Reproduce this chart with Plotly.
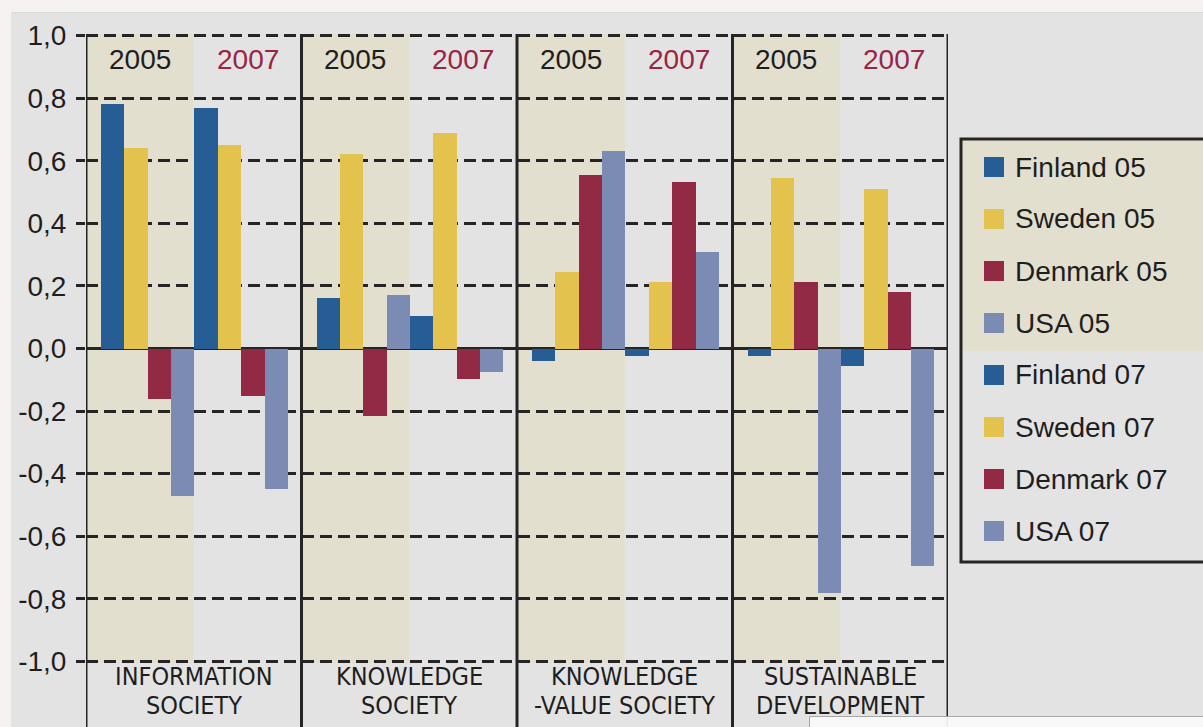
import plotly.graph_objects as go

# ---------------- data ----------------
categories = ["INFORMATION\nSOCIETY", "KNOWLEDGE\nSOCIETY", "KNOWLEDGE\n-VALUE SOCIETY", "SUSTAINABLE\nDEVELOPMENT"]
years = ["2005", "2007"]
series_names = ["Finland 05", "Sweden 05", "Denmark 05", "USA 05",
                "Finland 07", "Sweden 07", "Denmark 07", "USA 07"]
finland_05 = [0.78, 0.16, -0.04, -0.023]
sweden_05 = [0.64, 0.62, 0.245, 0.545]
denmark_05 = [-0.162, -0.215, 0.555, 0.213]
usa_05 = [-0.47, 0.17, 0.63, -0.78]
finland_07 = [0.77, 0.105, -0.025, -0.055]
sweden_07 = [0.65, 0.69, 0.213, 0.51]
denmark_07 = [-0.151, -0.097, 0.533, 0.181]
usa_07 = [-0.449, -0.074, 0.309, -0.695]
series_values = [finland_05, sweden_05, denmark_05, usa_05,
                 finland_07, sweden_07, denmark_07, usa_07]
ytick_vals = [1.0, 0.8, 0.6, 0.4, 0.2, 0.0, -0.2, -0.4, -0.6, -0.8, -1.0]
ytick_text = ["1,0", "0,8", "0,6", "0,4", "0,2", "0,0", "-0,2", "-0,4", "-0,6", "-0,8", "-1,0"]

# ---------------- style ----------------
country_colors = ["#265d94", "#e3c24e", "#922a45", "#7b8bb4"]
series_colors = country_colors + country_colors
DARK = "#262424"
BEIGE = "#e3dfcf"
GRAY = "#e4e3e3"
PAGE = "#f7f2f2"
RED_TEXT = "#9a2445"
FONT = "Liberation Sans, Arial, sans-serif"
NARROW = "DejaVu Sans Condensed, Liberation Sans Narrow, Arial Narrow, Liberation Sans, sans-serif"

WIDTH, HEIGHT = 1203, 727
L, R, T, B = 86, 255, 34, 64
PW, PH = WIDTH - L - R, HEIGHT - T - B


def xp(px):
    return (px - L) / PW


def yp(py):
    return (HEIGHT - B - py) / PH


n_cat = len(categories)
slot_w = 0.1084
slot_start = 0.0696

fig = go.Figure()
for j, (name, vals) in enumerate(zip(series_names, series_values)):
    fig.add_trace(go.Bar(
        x=[k + slot_start + slot_w * (j + 0.5) for k in range(n_cat)],
        y=vals,
        width=slot_w,
        name=name,
        marker=dict(color=series_colors[j], line=dict(width=0)),
        showlegend=False,
    ))

shapes = []
annotations = []

# beige 2005 halves
for k in range(n_cat):
    shapes.append(dict(type="rect", xref="x", yref="paper", x0=k, x1=k + 0.5, y0=0, y1=1,
                       fillcolor=BEIGE, line=dict(width=0), layer="below"))
# vertical separators extending below the plot
for k in range(n_cat + 1):
    shapes.append(dict(type="line", xref="x", yref="paper", x0=k, x1=k, y0=yp(730), y1=1,
                       line=dict(color=DARK, width=3), layer="above"))

# page strips (top and left)
shapes.append(dict(type="rect", xref="paper", yref="paper", x0=xp(-5), x1=xp(WIDTH + 5),
                   y0=yp(12), y1=yp(-5), fillcolor=PAGE, line=dict(width=0), layer="above"))
shapes.append(dict(type="line", xref="paper", yref="paper", x0=xp(11), x1=xp(WIDTH + 5),
                   y0=yp(12.5), y1=yp(12.5), line=dict(color="#dcdcdc", width=1), layer="above"))
shapes.append(dict(type="rect", xref="paper", yref="paper", x0=xp(-5), x1=xp(11),
                   y0=yp(HEIGHT + 5), y1=yp(12), fillcolor=PAGE, line=dict(width=0), layer="above"))

# year headers
for k in range(n_cat):
    for h, yr in enumerate(years):
        annotations.append(dict(x=k + 0.25 + 0.5 * h, y=yp(60), xref="x", yref="paper",
                                text=yr, showarrow=False, xanchor="center", yanchor="middle",
                                font=dict(family=FONT, size=28,
                                          color="#1e1e1e" if h == 0 else RED_TEXT)))

# category labels (two lines)
for k, cat in enumerate(categories):
    lines = cat.split("\n")
    for li, txt in enumerate(lines):
        annotations.append(dict(x=k + 0.5, y=yp(676 + 29 * li), xref="x", yref="paper",
                                text=txt, showarrow=False, xanchor="center", yanchor="middle",
                                font=dict(family=NARROW, size=25, color="#1e1e1e")))

# legend box
lg_x0, lg_y0, lg_y1, lg_mid = 961, 139, 562, 351
shapes.append(dict(type="rect", xref="paper", yref="paper", x0=xp(lg_x0), x1=xp(WIDTH + 10),
                   y0=yp(lg_mid), y1=yp(lg_y0), fillcolor=BEIGE, line=dict(width=0), layer="above"))
shapes.append(dict(type="rect", xref="paper", yref="paper", x0=xp(lg_x0), x1=xp(WIDTH + 10),
                   y0=yp(lg_y1), y1=yp(lg_y0), fillcolor="rgba(0,0,0,0)",
                   line=dict(color=DARK, width=3), layer="above"))
for j, name in enumerate(series_names):
    cy = 167 + 52 * j
    shapes.append(dict(type="rect", xref="paper", yref="paper", x0=xp(984), x1=xp(1004),
                       y0=yp(cy + 10), y1=yp(cy - 10), fillcolor=series_colors[j],
                       line=dict(width=0), layer="above"))
    annotations.append(dict(x=xp(1013), y=yp(cy), xref="paper", yref="paper", text=name,
                            showarrow=False, xanchor="left", yanchor="middle",
                            font=dict(family=FONT, size=28, color="#1e1e1e")))

# white box at bottom right
shapes.append(dict(type="rect", xref="paper", yref="paper", x0=xp(809.5), x1=xp(WIDTH + 10),
                   y0=yp(HEIGHT + 10), y1=yp(716.5), fillcolor="rgba(250,250,250,0.93)",
                   line=dict(color="#a8a8a8", width=1), layer="above"))

fig.update_layout(
    width=WIDTH, height=HEIGHT,
    margin=dict(l=L, r=R, t=T, b=B, pad=0),
    paper_bgcolor=GRAY, plot_bgcolor=GRAY,
    barmode="overlay", bargap=0,
    showlegend=False,
    shapes=shapes, annotations=annotations,
    xaxis=dict(range=[0, n_cat], showgrid=False, zeroline=False, showticklabels=False,
               ticks="", showline=False, fixedrange=True),
    yaxis=dict(range=[-1.005, 1.005], tickmode="array", tickvals=ytick_vals, ticktext=ytick_text,
               ticks="outside", ticklen=9, tickwidth=3, tickcolor=DARK,
               tickfont=dict(family=FONT, size=28, color="#1e1e1e"), ticklabelstandoff=4,
               showgrid=True, gridcolor=DARK, gridwidth=3, griddash="12px,6px",
               zeroline=True, zerolinecolor=DARK, zerolinewidth=3, showline=False),
)

fig.write_html("out.html")
